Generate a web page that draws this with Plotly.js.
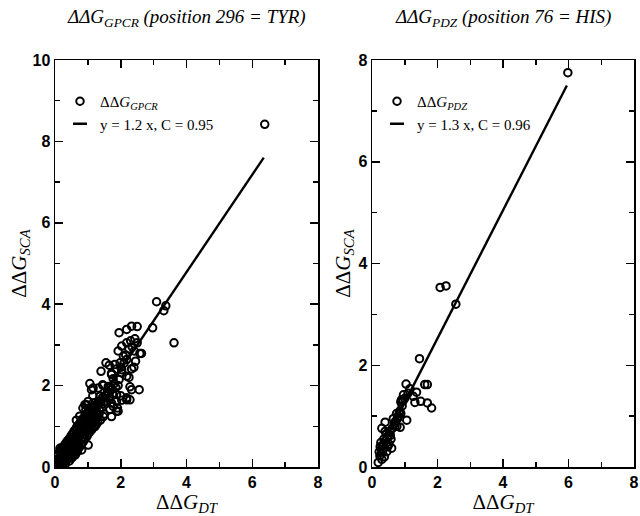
<!DOCTYPE html>
<html>
<head>
<meta charset="utf-8">
<script src="https://cdn.plot.ly/plotly-3.0.1.min.js"></script>
<style>html,body{margin:0;padding:0;background:#fff;}#chart{width:640px;height:516px;}</style>
</head>
<body>
<div id="chart"></div>
<script>
// ---- Left panel: GPCR (position 296 = TYR) ----
const gpcrDT = [
  0.05,0.08,0.10,0.12,0.15,0.15,0.18,0.20,0.22,0.24,0.25,0.27,0.28,0.30,0.32,0.33,0.35,0.36,0.38,0.40,
  0.40,0.42,0.44,0.45,0.46,0.48,0.50,0.50,0.52,0.54,0.55,0.56,0.58,0.60,0.60,0.62,0.63,0.65,0.65,0.67,
  0.68,0.70,0.70,0.72,0.74,0.75,0.76,0.78,0.80,0.80,0.82,0.83,0.85,0.86,0.88,0.90,0.90,0.92,0.94,0.95,
  0.97,0.98,1.00,1.02,1.03,1.05,1.07,1.08,1.10,1.12,1.13,1.15,1.17,1.18,1.20,1.22,1.25,1.26,1.28,1.30,
  1.32,1.35,1.38,1.40,
  0.06,0.10,0.14,0.18,0.20,0.22,0.26,0.30,0.32,0.34,0.38,0.40,0.42,0.46,0.50,0.50,0.54,0.58,0.58,0.62,
  0.66,0.66,0.70,0.72,0.74,0.78,0.78,0.82,0.84,0.86,0.88,0.90,0.92,0.96,0.96,1.00,1.00,1.04,1.06,1.10,
  1.12,1.16,1.20,1.22,1.24,1.28,1.30,1.34,1.36,1.42,1.44,1.48,1.50,1.52,1.56,1.60,1.65,1.68,1.75,1.80,
  1.85,1.95,2.00,2.10,2.15,2.25,2.35,2.45,2.50,2.40,2.25,1.40,1.65,1.90,2.00,0.85,0.75,0.65,1.15,
  1.06,1.16,1.45,1.62,1.72,1.92,2.03,2.18,0.91,1.01,1.16,1.72,1.87,2.03,2.18,1.67,1.87,1.72,1.47,0.94,
  0.15,0.61,0.81,1.01,
  1.55,1.82,1.98,1.72,1.87,2.03,2.33,1.77,1.47,1.32,2.28,2.56,2.33,2.18,2.28,1.92,1.77,1.87,1.72,1.62,
  1.57,1.37,0.96,1.11,2.18,2.08,1.92,
  3.09,3.37,3.31,2.97,3.62,2.63,1.95,2.18,2.33,2.50,2.18,2.03,2.30,2.43,2.58,2.41,
  6.38
];
const gpcrSCA = [
  0.02,0.10,0.05,0.15,0.08,0.22,0.12,0.28,0.18,0.05,0.35,0.22,0.12,0.40,0.28,0.18,0.45,0.32,0.22,0.50,
  0.38,0.28,0.15,0.55,0.42,0.32,0.60,0.48,0.36,0.25,0.66,0.52,0.42,0.72,0.58,0.30,0.48,0.78,0.64,0.55,
  0.38,0.85,0.70,0.60,0.48,0.92,0.78,0.66,1.00,0.55,0.85,0.72,1.08,0.62,0.92,0.80,1.12,0.70,1.00,0.88,
  1.18,0.76,1.05,0.95,1.25,0.85,1.12,1.02,1.30,0.92,1.20,1.08,1.38,0.98,1.25,1.15,1.45,1.05,1.32,1.22,
  1.52,1.40,1.15,1.60,
  0.18,0.30,0.38,0.42,0.05,0.48,0.50,0.55,0.08,0.60,0.64,0.20,0.68,0.72,0.78,0.22,0.82,0.88,0.30,0.92,
  0.98,0.42,1.02,0.52,1.06,1.10,0.82,1.15,0.95,1.20,0.70,1.00,1.25,1.30,1.05,0.90,1.35,1.40,1.18,1.05,
  1.45,1.28,1.50,1.00,1.35,1.55,1.10,1.30,1.62,1.45,1.70,1.55,1.30,1.75,1.62,1.85,1.70,1.95,1.80,2.05,
  1.95,2.15,2.45,2.55,2.75,2.90,2.95,2.60,3.05,2.45,2.20,2.35,2.50,1.45,1.75,1.45,1.25,1.15,1.75,
  2.05,1.94,2.02,1.98,2.27,2.00,2.31,2.23,1.53,1.61,1.57,1.57,1.61,1.64,1.65,1.41,1.37,1.24,1.24,1.41,
  0.46,0.67,0.42,0.54,
  2.56,2.52,2.56,2.30,2.41,2.39,2.41,2.17,2.00,1.94,1.97,1.90,1.90,1.70,1.65,1.37,1.49,1.78,1.90,1.81,
  1.57,1.74,1.53,1.90,2.64,2.72,2.85,
  4.06,3.96,3.84,3.42,3.05,2.79,3.30,3.38,3.46,3.45,3.05,2.97,3.10,3.15,2.79,2.85,
  8.42
];
const gpcrFitX = [0, 6.35];
const gpcrFitY = [0, 7.6];

// ---- Right panel: PDZ (position 76 = HIS) ----
const pdzDT = [
  2.08,2.26,2.56,1.45,1.04,1.16,1.36,1.26,1.61,1.69,1.31,1.49,1.69,1.82,0.96,0.90,1.00,0.88,
  1.06,0.83,0.76,0.86,0.40,0.30,0.50,0.19,0.24,0.28,0.60,0.35,0.42,0.48,0.55,0.62,0.68,0.72,
  0.80,0.85,0.92,0.32,0.38,0.45,0.52,0.58,0.25,0.30,0.36,0.44,0.65,0.75,0.95,1.10,5.98,
  0.22,0.34,0.46,0.56,0.70,0.78,0.88,0.27,0.40
];
const pdzSCA = [
  3.53,3.56,3.20,2.13,1.63,1.54,1.47,1.39,1.62,1.62,1.27,1.29,1.26,1.16,1.42,1.32,1.35,1.28,
  0.92,1.05,0.80,0.78,0.88,0.76,0.62,0.09,0.22,0.35,0.37,0.45,0.52,0.40,0.70,0.76,0.85,0.90,
  1.00,1.10,1.20,0.30,0.20,0.30,0.45,0.55,0.40,0.15,0.55,0.65,0.95,1.05,1.30,1.45,7.75,
  0.30,0.42,0.58,0.62,0.80,0.95,1.05,0.48,0.70
];
const pdzFitX = [0.15, 5.95];
const pdzFitY = [0.2, 7.5];

const legendLabels = {
  gpcr: 'ΔΔ<i>G</i><sub><i>GPCR</i></sub>',
  gpcrFit: 'y = 1.2 x, C = 0.95',
  pdz: 'ΔΔ<i>G</i><sub><i>PDZ</i></sub>',
  pdzFit: 'y = 1.3 x, C = 0.96'
};

const mk = {symbol: 'circle-open', size: 7.5, color: '#000', line: {width: 2, color: '#000'}};
const dashMk = {symbol: 'line-ew-open', size: 10, color: '#000', line: {width: 2.5, color: '#000'}};

const traces = [
  {x: gpcrFitX, y: gpcrFitY, mode: 'lines', line: {color: '#000', width: 2.4}, showlegend: false, xaxis: 'x', yaxis: 'y', hoverinfo: 'skip'},
  {x: gpcrDT, y: gpcrSCA, mode: 'markers', marker: mk, name: legendLabels.gpcr, xaxis: 'x', yaxis: 'y', legend: 'legend'},
  {x: [null], y: [null], mode: 'markers', marker: dashMk, name: legendLabels.gpcrFit, xaxis: 'x', yaxis: 'y', legend: 'legend'},
  {x: pdzFitX, y: pdzFitY, mode: 'lines', line: {color: '#000', width: 2.4}, showlegend: false, xaxis: 'x2', yaxis: 'y2', hoverinfo: 'skip'},
  {x: pdzDT, y: pdzSCA, mode: 'markers', marker: mk, name: legendLabels.pdz, xaxis: 'x2', yaxis: 'y2', legend: 'legend2'},
  {x: [null], y: [null], mode: 'markers', marker: dashMk, name: legendLabels.pdzFit, xaxis: 'x2', yaxis: 'y2', legend: 'legend2'}
];

const tickFont = {family: 'Liberation Sans, Arial, sans-serif', size: 16, color: '#000', weight: 'bold'};
const titleFont = {family: 'Liberation Serif, Times New Roman, serif', size: 21, color: '#000'};

function axis(extra) {
  return Object.assign({
    showline: true, linecolor: '#000', linewidth: 1.5, mirror: 'ticks',
    ticks: 'inside', ticklen: 8, tickwidth: 1.5, tickcolor: '#000',
    showgrid: false, zeroline: false, tickfont: tickFont, dtick: 2, tick0: 0,
    minor: {ticks: 'inside', ticklen: 5, tickwidth: 1.5, tickcolor: '#000', dtick: 1, showgrid: false},
    fixedrange: true
  }, extra);
}

const yDom = [49/516, 456/516];
const legendFont = {family: 'Liberation Serif, Times New Roman, serif', size: 15, color: '#000'};
const titleAnnFont = {family: 'Liberation Serif, Times New Roman, serif', size: 19, color: '#000'};
const layout = {
  width: 640, height: 516,
  margin: {l: 0, r: 0, t: 0, b: 0},
  paper_bgcolor: '#fff', plot_bgcolor: '#fff',
  showlegend: true,
  xaxis: axis({domain: [55/640, 318/640], range: [0, 8], anchor: 'y',
    title: {text: 'ΔΔ<i>G</i><sub><i>DT</i></sub>', font: titleFont, standoff: 2}}),
  yaxis: axis({domain: yDom, range: [0, 10], anchor: 'x',
    title: {text: 'ΔΔ<i>G</i><sub><i>SCA</i></sub>', font: titleFont, standoff: 0}}),
  xaxis2: axis({domain: [372/640, 634/640], range: [0, 8], anchor: 'y2',
    title: {text: 'ΔΔ<i>G</i><sub><i>DT</i></sub>', font: titleFont, standoff: 2}}),
  yaxis2: axis({domain: yDom, range: [0, 8], anchor: 'x2',
    title: {text: 'ΔΔ<i>G</i><sub><i>SCA</i></sub>', font: titleFont, standoff: 2}}),
  legend: {x: 60/640, y: 1 - 85/516, xanchor: 'left', yanchor: 'top', bgcolor: 'rgba(0,0,0,0)',
    font: legendFont, itemwidth: 30, tracegroupgap: 0},
  legend2: {x: 377/640, y: 1 - 85/516, xanchor: 'left', yanchor: 'top', bgcolor: 'rgba(0,0,0,0)',
    font: legendFont, itemwidth: 30, tracegroupgap: 0},
  annotations: [
    {text: '<i>ΔΔG<sub>GPCR</sub> (position 296 = TYR)</i>', xref: 'paper', yref: 'paper',
     x: 186.5/640, y: 1 - 18/516, xanchor: 'center', yanchor: 'middle', showarrow: false,
     font: titleAnnFont},
    {text: '<i>ΔΔG<sub>PDZ</sub> (position 76 = HIS)</i>', xref: 'paper', yref: 'paper',
     x: 503/640, y: 1 - 18/516, xanchor: 'center', yanchor: 'middle', showarrow: false,
     font: titleAnnFont}
  ]
};

Plotly.newPlot('chart', traces, layout, {displayModeBar: false, staticPlot: true});
</script>
</body>
</html>
